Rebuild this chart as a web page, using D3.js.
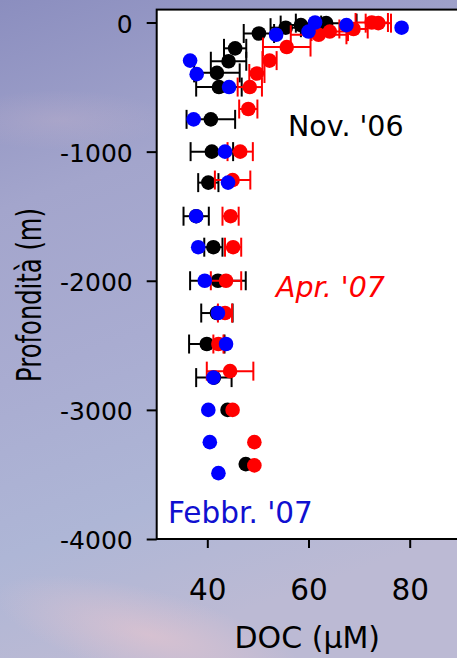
<!DOCTYPE html>
<html>
<head>
<meta charset="utf-8">
<script src="https://cdn.jsdelivr.net/npm/d3@7"></script>
<style>
  html, body { margin: 0; padding: 0; overflow: hidden; }
  svg { display: block; }
  text { font-family: "DejaVu Sans", sans-serif; }
</style>
</head>
<body>
<script>
// ---------- DATA ----------
// [DOC (µM), depth (m), error (±µM)]
const nov06 = [
  [63.5, -5, 6], [58.5, -20, 4], [55.5, -40, 3], [50.2, -85, 3],
  [45.5, -200, 2.2], [44.2, -300, 3.5], [41.9, -390, 4.5], [42.3, -500, 4.5],
  [40.7, -750, 4.8], [40.9, -1000, 4.2], [40.2, -1240, 2], [37.8, -1500, 2.5],
  [41.2, -1740, 1.8], [42.1, -2000, 5.5], [41.9, -2250, 3.1], [39.9, -2490, 3.5],
  [41.3, -2750, 3.5], [44.0, -3000, 0], [47.6, -3420, 0]
];
const apr07 = [
  [73.8, -5, 2.5], [72.5, 0, 3.2], [68.9, -50, 2.8], [64.2, -70, 3.6],
  [62.0, -95, 5.5], [55.7, -190, 4.7], [52.3, -295, 1.4], [49.8, -395, 1.5],
  [48.4, -500, 2.4], [48.1, -670, 1.8], [46.5, -1000, 2.5], [45.0, -1220, 3.5],
  [44.6, -1500, 1.6], [45.1, -1740, 1.6], [43.7, -2000, 3], [43.5, -2250, 1.4],
  [42.2, -2490, 1], [44.5, -2700, 4.6], [45.0, -3000, 0], [49.3, -3250, 0],
  [49.3, -3430, 0]
];
const feb07 = [
  [61.3, 0], [67.5, -20], [78.4, -40], [60.0, -70], [53.6, -95],
  [36.6, -295], [37.9, -400], [44.3, -500], [37.3, -750], [43.5, -1000],
  [44.1, -1240], [37.8, -1500], [38.2, -1740], [39.5, -2000], [42.1, -2250],
  [43.7, -2490], [41.2, -2750], [40.2, -3000], [40.5, -3250], [42.2, -3490]
];
const xTicks = [40, 60, 80];
const yTicks = [0, -1000, -2000, -3000, -4000];
const xDomain = [30, 90];
const yDomain = [100, -4000];
const labels = { nov: "Nov. '06", apr: "Apr. '07", feb: "Febbr. '07",
                 xTitle: "DOC (\u03BCM)", yTitle: "Profondità (m)" };

// ---------- CHART ----------
const W = 457, H = 658;
const svg = d3.select("body").append("svg").attr("width", W).attr("height", H);
const defs = svg.append("defs");

// sky background
const lg = defs.append("linearGradient").attr("id", "sky").attr("x1", 0).attr("y1", 0).attr("x2", 0.25).attr("y2", 1);
[[0, "#8b8ebf"], [0.3, "#a3a5cc"], [0.55, "#a9acd1"], [0.8, "#aeb6d6"], [1, "#bcbad4"]]
  .forEach(([o, c]) => lg.append("stop").attr("offset", o).attr("stop-color", c));
svg.append("rect").attr("width", W).attr("height", H).attr("fill", "url(#sky)");
const rg = defs.append("radialGradient").attr("id", "pink");
rg.append("stop").attr("offset", 0).attr("stop-color", "#e8c6cf").attr("stop-opacity", 0.6);
rg.append("stop").attr("offset", 1).attr("stop-color", "#e8c6cf").attr("stop-opacity", 0);
svg.append("ellipse").attr("cx", 150).attr("cy", 635).attr("rx", 160).attr("ry", 45)
  .attr("transform", "rotate(15,150,635)").attr("fill", "url(#pink)");
const rg2 = defs.append("radialGradient").attr("id", "pink2");
rg2.append("stop").attr("offset", 0).attr("stop-color", "#c9b6cc").attr("stop-opacity", 0.3);
rg2.append("stop").attr("offset", 1).attr("stop-color", "#c9b6cc").attr("stop-opacity", 0);
svg.append("ellipse").attr("cx", 60).attr("cy", 120).attr("rx", 110).attr("ry", 30).attr("fill", "url(#pink2)");

const x = d3.scaleLinear().domain(xDomain).range([156.7, 460.3]);
const y = d3.scaleLinear().domain(yDomain).range([9.6, 539.0]);

// plot box
svg.append("rect")
  .attr("x", x(xDomain[0])).attr("y", y(yDomain[0]))
  .attr("width", x(xDomain[1]) - x(xDomain[0]))
  .attr("height", y(yDomain[1]) - y(yDomain[0]))
  .attr("fill", "#fff").attr("stroke", "#000").attr("stroke-width", 2);

// axes
const yAxis = svg.append("g").attr("transform", `translate(${x(xDomain[0])},0)`)
  .call(d3.axisLeft(y).tickValues(yTicks).tickSize(10).tickSizeOuter(0).tickPadding(14).tickFormat(d => String(d)));
yAxis.select(".domain").remove();
yAxis.selectAll("line").attr("stroke", "#000").attr("stroke-width", 2);
yAxis.selectAll("text").attr("font-size", 25).attr("font-family", "DejaVu Sans").attr("fill", "#000").attr("dy", "0.38em");

const xAxis = svg.append("g").attr("transform", `translate(0,${y(yDomain[1])})`)
  .call(d3.axisBottom(x).tickValues(xTicks).tickSize(9).tickSizeOuter(0).tickPadding(31).tickFormat(d => String(d)));
xAxis.select(".domain").remove();
xAxis.selectAll("line").attr("stroke", "#000").attr("stroke-width", 2);
xAxis.selectAll("text").attr("font-size", 29.5).attr("font-family", "DejaVu Sans").attr("fill", "#000");

// axis titles
svg.append("text").attr("x", x(40) + 100).attr("y", 648).attr("text-anchor", "middle")
  .attr("font-size", 30).attr("fill", "#000").text(labels.xTitle);
svg.append("text").attr("transform", "translate(41,295) rotate(-90) scale(0.713,1)")
  .attr("text-anchor", "middle").attr("font-size", 34).attr("fill", "#000").text(labels.yTitle);

// series
const plot = svg.append("g");
function errBars(data, color) {
  const g = plot.append("g").attr("stroke", color).attr("stroke-width", 2);
  data.filter(d => d[2] > 0).forEach(d => {
    const yy = y(d[1]);
    g.append("line").attr("x1", x(d[0] - d[2])).attr("x2", x(d[0] + d[2])).attr("y1", yy).attr("y2", yy);
    [d[0] - d[2], d[0] + d[2]].forEach(v =>
      g.append("line").attr("x1", x(v)).attr("x2", x(v)).attr("y1", yy - 9.5).attr("y2", yy + 9.5));
  });
}
function dots(data, color) {
  plot.append("g").selectAll("circle").data(data).join("circle")
    .attr("cx", d => x(d[0])).attr("cy", d => y(d[1])).attr("r", 7.3).attr("fill", color);
}
errBars(nov06, "#000"); dots(nov06, "#000");
errBars(apr07, "#ff0000"); dots(apr07, "#ff0000");
dots(feb07, "#0000ff");

// series labels
svg.append("text").attr("x", 288).attr("y", 136).attr("font-size", 28.5).attr("fill", "#000").text(labels.nov);
svg.append("text").attr("x", 276).attr("y", 297).attr("font-size", 28.5).attr("font-style", "italic").attr("fill", "#ff0000").text(labels.apr);
svg.append("text").attr("x", 168).attr("y", 523).attr("font-size", 29.5).attr("fill", "#1010d0").text(labels.feb);
</script>
</body>
</html>
